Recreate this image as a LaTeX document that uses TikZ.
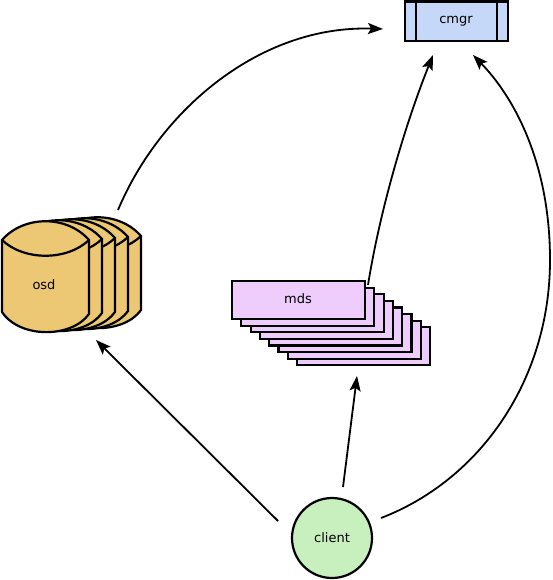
\documentclass[tikz,border=0pt]{standalone}
\usepackage{fontspec}
\setmainfont{DejaVu Sans}
\usetikzlibrary{arrows.meta}
\definecolor{osdfill}{RGB}{236,200,116}
\definecolor{mdsfill}{RGB}{238,204,252}
\definecolor{cmgrfill}{RGB}{198,216,248}
\definecolor{clientfill}{RGB}{200,240,190}
\tikzset{
  shapeline/.style={draw=black, line width=2.2pt},
  conn/.style={line width=1.8pt, -{Stealth[length=15pt,width=11pt,inset=3pt]}},
  lbl/.style={font=\fontsize{13}{15}\selectfont, inner sep=0pt},
}
\newcommand{\osdcopy}[2]{%
  \begin{scope}[shift={(#1,#2)}]
    \filldraw[shapeline, fill=osdfill] (0,0) .. controls (22,-25) and (65,-25) .. (87,0)
      -- (87,74) .. controls (70,98) and (18,99) .. (0,72) -- cycle;
    \draw[shapeline] (0,0) .. controls (22,21) and (65,21) .. (87,0);
  \end{scope}}
\begin{document}
\begin{tikzpicture}[x=1pt,y=-1pt]
\useasboundingbox (0,0) rectangle (553,580);
% osd stack
\osdcopy{54}{236}
\osdcopy{41}{237}
\osdcopy{28}{238}
\osdcopy{15}{239}
\osdcopy{2}{240}
\node[lbl] (osd) at (44,285) {osd};
% mds stack
\foreach \k in {7,6,...,1}{
  \filldraw[shapeline, fill=mdsfill] (232+9.3*\k,281+6.6*\k) rectangle (365+9.3*\k,319+6.6*\k);
}
\filldraw[shapeline, fill=mdsfill] (232,281) rectangle (365,319);
\node[lbl] (mds) at (298,299) {mds};
% cmgr
\filldraw[shapeline, fill=cmgrfill] (405,1.5) rectangle (508,41);
\draw[shapeline] (416,1.5) -- (416,41) (497,1.5) -- (497,41);
\node[lbl] (cmgr) at (456,21) {cmgr};
% client
\node[circle, shapeline, fill=clientfill, minimum size=80pt, inner sep=0pt,
      font=\fontsize{13}{15}\selectfont] (client) at (332,538) {client};
% connector end points
\coordinate (osdout) at (118,210);
\coordinate (osdin) at (96,340);
\coordinate (mdsout) at (368,285);
\coordinate (mdsin) at (357,376);
\coordinate (cmgrinA) at (383,29);
\coordinate (cmgrinB) at (433,55);
\coordinate (cmgrinC) at (473,55);
\coordinate (clientA) at (278,521);
\coordinate (clientB) at (343,487);
\coordinate (clientC) at (381,518);
\draw[conn] (osdout) .. controls (160,110) and (260,25) .. (cmgrinA);
\draw[conn] (mdsout) .. controls (380,210) and (405,125) .. (cmgrinB);
\draw[conn] (clientC) .. controls (480,480) and (550,380) .. (550,260)
   .. controls (550,160) and (512,95) .. (cmgrinC);
\draw[conn] (clientA) -- (osdin);
\draw[conn] (clientB) -- (mdsin);
\end{tikzpicture}
\end{document}
